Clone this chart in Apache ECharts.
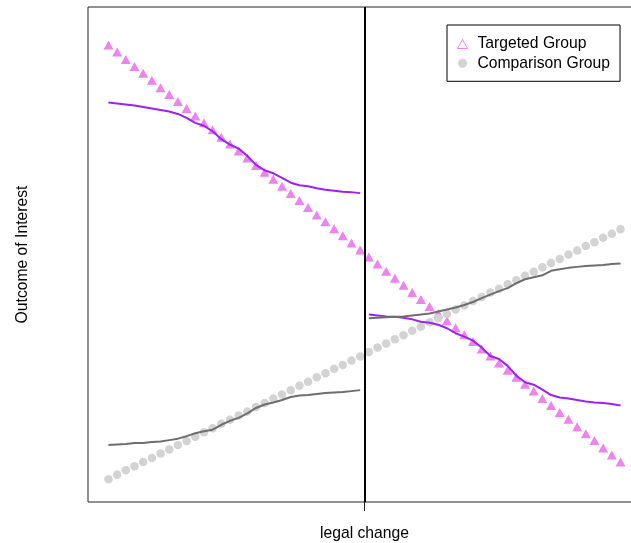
<!DOCTYPE html>
<html>
<head>
<meta charset="utf-8">
<script src="https://cdn.jsdelivr.net/npm/echarts@6/dist/echarts.min.js"></script>
<style>
html,body{margin:0;padding:0;background:#fff;}
#chart{width:631px;height:543px;}
</style>
</head>
<body>
<div id="chart"></div>
<script>
// time index 1..60
const timeIndex = [1,2,3,4,5,6,7,8,9,10,11,12,13,14,15,16,17,18,19,20,21,22,23,24,25,26,27,28,29,30,
  31,32,33,34,35,36,37,38,39,40,41,42,43,44,45,46,47,48,49,50,51,52,53,54,55,56,57,58,59,60];
const legalChange = 30.5;

const targetedPoints = [92.3,90.9,89.4,88.0,86.6,85.2,83.7,82.3,80.9,79.5,78.0,76.6,75.2,73.7,72.3,70.9,69.5,68.0,66.6,65.2,
  63.8,62.3,60.9,59.5,58.0,56.6,55.2,53.8,52.3,50.9,49.5,48.1,46.6,45.2,43.8,42.3,40.9,39.5,38.1,36.6,
  35.2,33.8,32.4,30.9,29.5,28.1,26.6,25.2,23.8,22.4,20.9,19.5,18.1,16.7,15.2,13.8,12.4,10.9,9.5,8.1];

const comparisonPoints = [4.6,5.5,6.4,7.2,8.1,8.9,9.8,10.6,11.5,12.3,13.2,14.1,14.9,15.8,16.6,17.5,18.3,19.2,20.0,20.9,
  21.7,22.6,23.5,24.3,25.2,26.0,26.9,27.7,28.6,29.4,30.3,31.2,32.0,32.9,33.7,34.6,35.4,36.3,37.1,38.0,
  38.9,39.7,40.6,41.4,42.3,43.1,44.0,44.8,45.7,46.5,47.4,48.3,49.1,50.0,50.8,51.7,52.5,53.4,54.2,55.1];

const targetedLinePre = [80.7,80.5,80.3,80.1,79.8,79.5,79.2,78.9,78.4,77.6,76.6,76.0,74.9,73.3,72.2,71.4,69.9,68.1,67.0,66.4,
  65.5,64.5,64.0,63.8,63.4,63.1,62.9,62.7,62.6,62.4];
const targetedLinePost = [37.9,37.7,37.5,37.4,37.2,36.9,36.4,36.2,35.8,35.1,34.1,33.4,32.6,31.2,29.5,28.9,27.5,25.5,24.2,23.7,
  22.7,21.6,21.1,20.9,20.6,20.3,20.1,20.0,19.8,19.5];
const comparisonLinePre = [11.5,11.6,11.7,11.9,11.9,12.1,12.2,12.5,12.8,13.3,13.9,14.3,14.6,15.6,16.4,17.0,17.9,19.0,19.7,20.1,
  20.6,21.2,21.5,21.6,21.8,22.0,22.1,22.2,22.4,22.6];
const comparisonLinePost = [37.1,37.2,37.3,37.4,37.5,37.7,37.9,38.1,38.5,38.9,39.3,39.8,40.4,41.2,41.9,42.6,43.2,44.2,45.0,45.4,
  45.8,46.7,47.0,47.3,47.5,47.7,47.8,47.9,48.1,48.2];

const legendNames = ['Targeted Group', 'Comparison Group'];
const xTitle = 'legal change';
const yTitle = 'Outcome of Interest';

const FONT = '"Liberation Sans", Arial, Helvetica, sans-serif';
const pre = timeIndex.slice(0, 30), post = timeIndex.slice(30);
const pair = (xs, ys) => xs.map((x, i) => [x, ys[i]]);

const chart = echarts.init(document.getElementById('chart'), null, {renderer: 'canvas'});
chart.setOption({
  animation: false,
  backgroundColor: '#ffffff',
  textStyle: {fontFamily: FONT},
  grid: {left: 88, top: 7, width: 553, height: 495, show: true, borderColor: '#222', borderWidth: 1,
         backgroundColor: 'transparent', outerBoundsMode: 'none', containLabel: false},
  xAxis: {
    type: 'value', min: -1.36, max: 62.36,
    axisLine: {show: false},
    splitLine: {show: false},
    axisTick: {show: true, customValues: [legalChange], length: 9, lineStyle: {color: '#222', width: 1}},
    axisLabel: {show: false},
    name: xTitle, nameLocation: 'middle', nameGap: 24,
    nameTextStyle: {fontFamily: FONT, fontSize: 15.7, color: '#000'}
  },
  yAxis: {
    type: 'value', min: 0, max: 100,
    axisLine: {show: false}, axisTick: {show: false}, axisLabel: {show: false}, splitLine: {show: false},
    name: yTitle, nameLocation: 'middle', nameGap: 57, nameRotate: 90,
    nameTextStyle: {fontFamily: FONT, fontSize: 15.7, color: '#000'}
  },
  legend: {
    left: 447, top: 25, orient: 'vertical',
    padding: [10, 10, 9, 10],
    borderColor: '#000', borderWidth: 1,
    itemWidth: 10, itemHeight: 9, itemGap: 1.3,
    textStyle: {fontFamily: FONT, fontSize: 15.7, color: '#000', lineHeight: 18, padding: [0, 0, 0, 5]},
    data: [
      {name: legendNames[0], icon: 'triangle', itemStyle: {color: 'rgba(0,0,0,0)', borderColor: '#EE82EE', borderWidth: 1}},
      {name: legendNames[1], icon: 'circle', itemStyle: {color: '#D3D3D3', borderWidth: 0}}
    ]
  },
  series: [
    {name: legendNames[0], type: 'scatter', data: pair(timeIndex, targetedPoints), symbol: 'triangle', symbolSize: [10, 9],
     itemStyle: {color: '#EE82EE', opacity: 1}, z: 2},
    {name: legendNames[1], type: 'scatter', data: pair(timeIndex, comparisonPoints), symbol: 'circle', symbolSize: 8.5,
     itemStyle: {color: '#D3D3D3', opacity: 1}, z: 2},
    {name: 'tpre', type: 'line', data: pair(pre, targetedLinePre), showSymbol: false, symbol: 'none', clip: false,
     lineStyle: {color: '#A020F0', width: 2}, z: 3},
    {name: 'tpost', type: 'line', data: pair(post, targetedLinePost), showSymbol: false, symbol: 'none', clip: false,
     lineStyle: {color: '#A020F0', width: 2}, z: 3},
    {name: 'cpre', type: 'line', data: pair(pre, comparisonLinePre), showSymbol: false, symbol: 'none', clip: false,
     lineStyle: {color: '#6E6E6E', width: 2}, z: 3},
    {name: 'cpost', type: 'line', data: pair(post, comparisonLinePost), showSymbol: false, symbol: 'none', clip: false,
     lineStyle: {color: '#6E6E6E', width: 2}, z: 3,
     markLine: {silent: true, symbol: 'none', label: {show: false}, animation: false,
       lineStyle: {color: '#000', width: 2, type: 'solid'},
       data: [{xAxis: legalChange}]}}
  ]
});
</script>
</body>
</html>
